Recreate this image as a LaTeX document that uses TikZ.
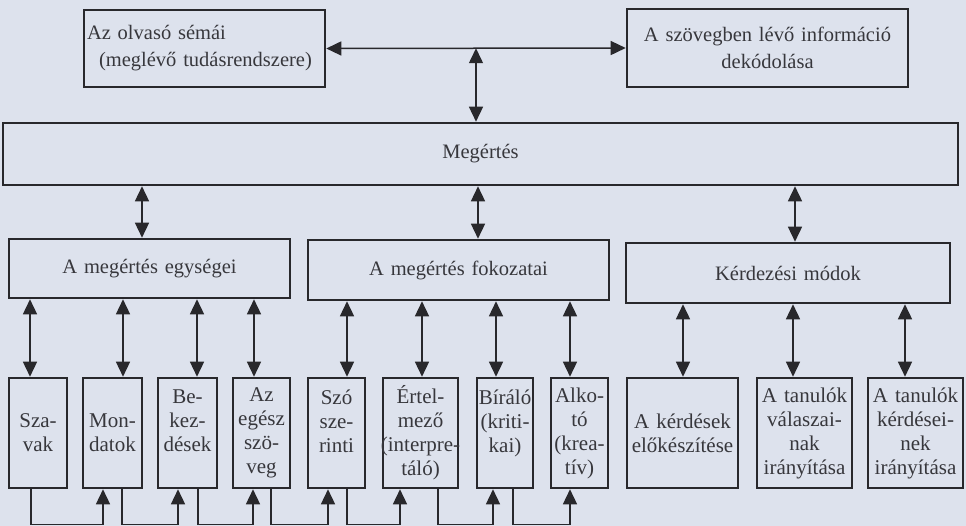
\documentclass[tikz,border=0pt]{standalone}
\usepackage{fontspec}
\setmainfont{Liberation Serif}
\usetikzlibrary{arrows.meta,calc}
\definecolor{bg}{RGB}{221,226,237}
\definecolor{ink}{RGB}{40,40,44}
\definecolor{txt}{RGB}{55,55,60}
\newcommand{\zw}[1]{\makebox[0pt]{#1}}
\hyphenpenalty=10000
\exhyphenpenalty=10000
\begin{document}
\begin{tikzpicture}[x=1pt,y=-1pt,
  box/.style={draw=ink, line width=2.6pt, inner sep=0pt, text=txt, align=center,
    font=\fontsize{20.5}{27}\selectfont},
  rbox/.style 2 args={box, minimum width=#1, text width=#1, minimum height=#2},
  small/.style={font=\fontsize{21}{24}\selectfont},
  tip/.tip={Triangle[length=15pt,width=14pt]},
  dbl/.style={draw=ink, line width=1.5pt, tip-tip},
  sarr/.style={draw=ink, line width=1.5pt, -tip}
]
\fill[bg] (0,0) rectangle (966,526);
\useasboundingbox (0,0) rectangle (966,526);

% top row
\node[rbox={241pt}{77pt}, align=left, inner xsep=3pt, text width=235pt] (olv) at (204.5,48.5)
  {Az olvasó sémái\\\hspace*{12pt}(meglévő tudásrendszere)};
\node[rbox={281pt}{78pt}] (dek) at (767.5,48) {A szövegben lévő információ\\dekódolása};

% Megértés
\node[rbox={955pt}{62pt}] (meg) at (480.5,154) {Megértés};

% second row
\node[rbox={281pt}{59pt}] (egys) at (149.5,268.5) {A megértés egységei};
\node[rbox={301pt}{60pt}] (fok) at (458.5,270) {A megértés fokozatai};
\node[rbox={324pt}{60pt}] (kerd) at (788,273) {Kérdezési módok};

% third row
\node[rbox={58pt}{110pt}, small] (sz) at (38,433) {Sza-\\vak};
\node[rbox={59pt}{110pt}, small] (mo) at (112.5,433) {Mon-\\datok};
\node[rbox={59pt}{110pt}, small] (be) at (187.5,433) {Be-\\kez-\\dések\\\mbox{}};
\node[rbox={57pt}{110pt}, small] (eg) at (261.5,433) {Az\\egész\\szö-\\veg};
\node[rbox={57pt}{110pt}, small] (szo) at (336.5,433) {Szó\\sze-\\rinti\\\mbox{}};
\node[rbox={75pt}{110pt}, small] (ert) at (420.5,433) {Értel-\\mező\\\zw{(interpre-}\\táló)};
\node[rbox={56pt}{110pt}, small] (bir) at (505,433) {\zw{Bíráló}\\(kriti-\\kai)\\\mbox{}};
\node[rbox={57pt}{110pt}, small] (alk) at (579.5,433) {Alko-\\tó\\(krea-\\tív)};
\node[rbox={111pt}{110pt}, small] (k1) at (682.5,433) {A kérdések\\\zw{előkészítése}};
\node[rbox={95pt}{110pt}, small] (k2) at (804.5,433) {A tanulók\\válaszai-\\nak\\irányítása};
\node[rbox={95pt}{110pt}, small] (k3) at (915.5,433) {A tanulók\\kérdései-\\nek\\irányítása};

% top connectors
\coordinate (mid) at ($(olv.east)!0.5!(dek.west)$);
\draw[dbl] (olv.east) -- (dek.west);
\draw[dbl] (mid) -- (mid |- meg.north);

% Megértés to second row
\coordinate (e1) at ([xshift=-7.5pt]egys.north);
\coordinate (e2) at ([xshift=19.5pt]fok.north);
\coordinate (e3) at ([xshift=7pt]kerd.north);
\foreach \c in {e1,e2,e3} \draw[dbl] (\c |- meg.south) -- (\c);

% second row to third row
\coordinate (t1) at ([xshift=-8pt]sz.north);
\coordinate (t2) at ([xshift=10.5pt]mo.north);
\coordinate (t3) at ([xshift=9.5pt]be.north);
\coordinate (t4) at ([xshift=-7.5pt]eg.north);
\foreach \c in {t1,t2,t3,t4} \draw[dbl] (\c |- egys.south) -- (\c);
\coordinate (u1) at ([xshift=10.5pt]szo.north);
\coordinate (u2) at ([xshift=1.5pt]ert.north);
\coordinate (u3) at ([xshift=-9pt]bir.north);
\coordinate (u4) at ([xshift=-9.5pt]alk.north);
\foreach \c in {u1,u2,u3,u4} \draw[dbl] (\c |- fok.south) -- (\c);
\coordinate (v1) at ([xshift=0.5pt]k1.north);
\coordinate (v2) at ([xshift=-11.5pt]k2.north);
\coordinate (v3) at ([xshift=-10.5pt]k3.north);
\foreach \c in {v1,v2,v3} \draw[dbl] (\c |- kerd.south) -- (\c);

% bottom chain
\draw[sarr] ([xshift=-7pt]sz.south) -- ++(0,35) -| ([xshift=-9.5pt]mo.south);
\draw[sarr] ([xshift=9.5pt]mo.south) -- ++(0,35) -| ([xshift=-9.5pt]be.south);
\draw[sarr] ([xshift=10.5pt]be.south) -- ++(0,35) -| ([xshift=-8.5pt]eg.south);
\draw[sarr] ([xshift=9.5pt]eg.south) -- ++(0,35) -| ([xshift=-8.5pt]szo.south);
\draw[sarr] ([xshift=10.5pt]szo.south) -- ++(0,35) -| ([xshift=-20.5pt]ert.south);
\draw[sarr] ([xshift=17.5pt]ert.south) -- ++(0,35) -| ([xshift=-12pt]bir.south);
\draw[sarr] ([xshift=8pt]bir.south) -- ++(0,35) -| ([xshift=-9.5pt]alk.south);
\end{tikzpicture}
\end{document}
